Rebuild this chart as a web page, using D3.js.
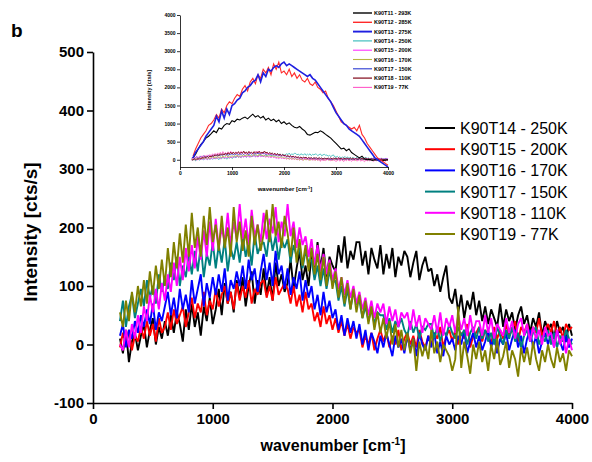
<!DOCTYPE html>
<html><head><meta charset="utf-8">
<script src="https://cdn.jsdelivr.net/npm/d3@7"></script>
<style>body{margin:0;background:#fff} svg text{font-family:Arial,"Liberation Sans",sans-serif}</style>
</head><body><svg id="c" width="592" height="462"></svg>
<script>
// ---------- DATA ----------
const mainNames = ["K90T14 - 250K","K90T15 - 200K","K90T16 - 170K","K90T17 - 150K","K90T18 - 110K","K90T19 - 77K"];
const mainStart = 225, mainStep = 25; // wavenumber grid of the main spectra
const T14 = [10,-15,25,-30,5,20,-10,15,
35,-5,25,45,0,30,10,40,
15,50,20,55,35,5,60,25,
70,30,55,15,65,40,80,35,
60,95,50,105,70,90,55,110,
80,115,65,100,125,70,110,85,
130,85,115,75,140,100,120,90,
105,145,95,130,160,110,135,100,
155,120,175,130,165,115,150,135,
125,170,140,185,130,160,145,175,
175,135,160,120,165,145,130,170,
120,155,130,165,115,150,135,160,
150,115,140,160,110,135,150,125,
130,100,120,90,115,135,80,70,
95,55,85,45,75,60,90,50,
75,40,65,35,60,45,30,70,
30,60,40,55,25,50,65,35,
50,20,45,30,55,15,40,25,
35,10,40,20,30,5,35,15];
const T15 = [-5,20,0,25,-10,15,5,30,
10,40,15,35,5,45,20,30,
55,25,60,35,50,65,30,55,
80,45,70,55,90,50,75,60,
95,65,85,100,70,90,60,105,
75,100,80,110,70,95,85,105,
110,80,100,75,115,85,95,105,
95,70,100,65,85,55,90,60,
70,40,55,30,65,35,50,25,
45,20,40,15,35,10,30,20,
25,-5,15,0,20,-10,10,25,
5,20,-5,15,0,25,-10,10,
20,0,15,-5,25,5,-5,15,
0,20,10,30,-5,15,25,5,
25,0,20,10,35,-5,15,20,
30,5,25,15,0,30,10,25,
10,35,15,25,40,5,30,20,
35,10,30,20,45,15,25,35,
20,40,15,30,10,35,25,30];
const T16 = [15,35,-5,25,10,40,20,50,
30,60,35,70,25,55,40,65,
90,50,80,45,95,60,85,55,
110,70,95,120,65,105,80,115,
85,120,90,130,75,110,95,125,
100,135,95,145,110,130,90,125,
155,110,140,100,160,120,135,95,
130,85,115,95,125,75,110,80,
100,60,85,50,90,55,75,45,
60,25,50,15,45,20,40,10,
35,0,25,-10,20,5,-15,15,
-5,20,0,-20,15,-5,10,-15,
15,-10,10,-20,20,0,-10,15,
-5,20,-15,5,-20,15,0,10,
-10,15,0,25,-15,5,20,-5,
15,-10,5,25,-5,15,-15,10,
0,20,-10,10,25,-5,15,-15,
10,25,-5,15,-15,5,20,0,
20,-5,25,5,-10,15,-5,10];
const T17 = [40,75,30,65,85,45,70,95,
65,110,80,100,70,120,90,115,
95,140,110,150,100,135,115,155,
120,160,125,170,115,155,135,175,
130,170,140,180,125,165,145,175,
140,185,150,175,135,190,155,170,
175,150,195,160,185,145,180,165,
180,140,170,150,165,130,160,140,
145,110,135,100,130,95,125,105,
110,75,100,65,95,60,90,70,
75,45,65,40,60,35,55,50,
50,25,45,20,40,30,45,25,
15,40,20,35,10,30,25,35,
35,10,30,5,25,15,35,20,
10,30,15,25,0,20,30,10,
30,10,25,5,20,0,30,15,
0,25,10,30,5,20,-5,15,
25,5,20,30,0,15,5,25,
0,20,-5,15,5,25,10,0];
const T18 = [0,-10,25,-5,35,10,50,20,
65,40,85,55,95,60,105,75,
120,90,140,100,150,110,165,125,
170,130,185,145,195,150,210,160,
215,165,200,175,225,170,210,180,
240,180,215,170,230,185,205,175,
225,180,215,190,235,175,210,185,
240,185,210,165,200,170,185,150,
180,135,170,125,155,120,145,110,
130,95,115,85,110,80,100,70,
90,60,80,50,75,45,70,55,
70,35,65,40,60,30,55,45,
55,25,60,30,50,20,45,35,
25,50,20,55,15,45,30,50,
20,50,25,45,15,50,20,40,
40,15,50,20,45,10,35,25,
15,45,20,40,10,35,45,15,
35,5,30,10,25,0,30,15,
20,-5,25,0,15,-15,10,-10];
const T19 = [55,30,75,40,90,55,100,65,
110,70,125,85,135,95,145,100,
165,115,175,130,190,140,205,150,
225,165,200,150,220,170,235,175,
205,160,220,165,200,150,235,175,
210,160,195,150,220,170,205,160,
190,230,175,240,185,210,165,220,
190,150,200,140,180,135,170,125,
165,120,155,110,150,100,140,95,
125,80,115,70,105,60,95,55,
85,45,75,35,65,25,55,20,
45,10,40,0,35,-5,25,-10,
20,-15,10,-45,5,-20,0,-25,
25,-15,5,-30,0,-10,-20,-45,
-25,65,-40,5,-20,-50,0,-25,
5,-30,-10,-45,0,-25,10,-35,
-20,5,-40,-10,-25,-55,-5,-30,
-5,-35,5,-25,-45,-10,-30,0,
-25,-40,-5,-30,-15,-45,-10,-20];

const insetNames = ["K90T11 - 293K","K90T12 - 285K","K90T13 - 275K","K90T14 - 250K","K90T15 - 200K","K90T16 - 170K","K90T17 - 150K","K90T18 - 110K","K90T19 - 77K"];
const insetStart = 250, insetStep = 50; // wavenumber grid of the room-temperature spectra
const T11 = [50,150,300,420,500,600,650,720,
800,750,880,850,950,1000,980,1080,
1050,1120,1100,1150,1180,1130,1200,1260,
1180,1220,1150,1200,1100,1150,1080,1120,
1050,1100,1000,1050,980,1020,950,900,
880,920,850,800,700,680,720,760,
750,800,760,700,650,600,520,450,
380,300,320,250,300,200,150,100,
50,100,20,0,10,-20,0,-10,
0,-20,-10,0];
const T12 = [100,300,450,600,700,800,950,1000,
1100,1250,1150,1400,1300,1500,1600,1550,
1700,1800,1750,1950,2050,1900,2150,2250,
2100,2350,2250,2500,2400,2550,2350,2650,
2500,2700,2400,2450,2350,2500,2300,2400,
2250,2350,2200,2150,2250,2100,2050,2150,
2000,1950,1850,1900,1700,1600,1500,1350,
1200,1050,1000,950,900,850,900,800,
950,700,600,450,350,250,150,50,
0,-50,-100,-150];
const T13 = [50,200,300,400,500,650,750,850,
950,1200,1050,1350,1150,1400,1250,1500,
1550,1650,1700,1850,1900,2000,2050,2150,
2200,2350,2150,2400,2300,2500,2450,2550,
2600,2550,2650,2700,2600,2650,2600,2550,
2500,2450,2400,2350,2300,2350,2250,2200,
2100,2000,1900,1800,1700,1600,1450,1300,
1200,1100,1000,950,850,800,750,700,
650,550,450,350,250,150,50,0,
-50,-100,-150,-200];

const mainYTicks = [-100,0,100,200,300,400,500];
const mainXTicks = [0,1000,2000,3000,4000];
const insetYTicks = [0,500,1000,1500,2000,2500,3000,3500,4000];
const insetXTicks = [0,1000,2000,3000,4000];

// ---------- STYLES ----------
const mainColors = ["#000000","#ff0000","#0000ff","#008080","#ff00ff","#808000"];
const insetColors = ["#000000","#ff2a2a","#1f1fe0","#30b8b8","#ff30ff","#b8b840","#2a3ad0","#8a1a2a","#ff5ac8"];
const insetWidths = [1.1,1.1,1.6,0.8,0.8,0.8,0.8,1.0,0.8];

// ---------- DRAW ----------
const svg = d3.select("#c");
const mainSeries = [T14,T15,T16,T17,T18,T19];
const insetSeries = [T11,T12,T13,T14,T15,T16,T17,T18,T19];

const x = d3.scaleLinear([0,4000],[93,572]);
const y = d3.scaleLinear([-100,500],[403,52]);

function styleAxis(g, fs){
  g.selectAll("path.domain").attr("stroke","#000");
  g.selectAll("line").attr("stroke","#000");
  g.selectAll("text").attr("font-size",fs).attr("font-weight","bold").attr("fill","#000")
   .attr("font-family","Arial, 'Liberation Sans', sans-serif");
}

// main lines
mainSeries.forEach((s,k)=>{
  const line = d3.line().x((d,i)=>x(mainStart+i*mainStep)).y(d=>y(d));
  svg.append("path").datum(s).attr("d",line).attr("fill","none")
    .attr("stroke",mainColors[k]).attr("stroke-width",1.9).attr("stroke-linejoin","miter").attr("stroke-miterlimit",2);
});

// main axes
const gy = svg.append("g").attr("transform","translate(93,0)");
gy.call(d3.axisLeft(y).tickValues(d3.range(-50,500,100)).tickSize(3).tickSizeOuter(0).tickFormat(""));
gy.call(d3.axisLeft(y).tickValues(mainYTicks).tickSize(6).tickSizeOuter(0).tickPadding(3).tickFormat(d=>String(d)));
styleAxis(gy,"15px");
gy.selectAll("path.domain,line").attr("stroke-width",1.6);
const gx = svg.append("g").attr("transform","translate(0,403)");
gx.call(d3.axisBottom(x).tickValues(d3.range(500,4000,1000)).tickSize(3).tickSizeOuter(0).tickFormat(""));
gx.call(d3.axisBottom(x).tickValues(mainXTicks).tickSize(6).tickSizeOuter(0).tickPadding(4).tickFormat(d=>String(d)));
styleAxis(gx,"15px");
gx.selectAll("path.domain,line").attr("stroke-width",1.6);

svg.append("text").attr("transform","translate(37,232) rotate(-90)").attr("text-anchor","middle")
  .attr("font-size","19px").attr("font-weight","bold").text("Intensity [cts/s]");
const xt = svg.append("text").attr("x",333).attr("y",451).attr("text-anchor","middle")
  .attr("font-size","16px").attr("font-weight","bold");
xt.append("tspan").text("wavenumber [cm");
xt.append("tspan").attr("dy",-6).attr("font-size","10px").text("-1");
xt.append("tspan").attr("dy",6).text("]");
svg.append("text").attr("x",11).attr("y",37).attr("font-size","19px").attr("font-weight","bold").text("b");

// main legend
mainNames.forEach((n,k)=>{
  const yy = 128 + k*21.2;
  svg.append("line").attr("x1",425).attr("x2",455).attr("y1",yy).attr("y2",yy)
    .attr("stroke",mainColors[k]).attr("stroke-width",2);
  svg.append("text").attr("x",460).attr("y",yy+6).attr("font-size","16px").text(n);
});

// ---------- INSET ----------
const xi = d3.scaleLinear([0,4000],[180,388]);
const yi = d3.scaleLinear([-200,4000],[167,15]);
const order = [3,4,5,6,8,7,0,1,2];
order.forEach(k=>{
  const s = insetSeries[k];
  const st = k<3 ? insetStart : mainStart, sp = k<3 ? insetStep : mainStep;
  const line = d3.line().x((d,i)=>xi(st+i*sp)).y(d=>yi(d));
  svg.append("path").datum(s).attr("d",line).attr("fill","none")
    .attr("stroke",insetColors[k]).attr("stroke-width",insetWidths[k]);
});
const giy = svg.append("g").attr("transform","translate(180,0)");
giy.call(d3.axisLeft(yi).tickValues(d3.range(250,4000,500)).tickSize(1.5).tickSizeOuter(0).tickFormat(""));
giy.call(d3.axisLeft(yi).tickValues(insetYTicks).tickSize(3).tickSizeOuter(0).tickPadding(1.5).tickFormat(d=>String(d)));
styleAxis(giy,"5px");
giy.selectAll("path.domain,line").attr("stroke-width",0.8);
const gix = svg.append("g").attr("transform","translate(0,167)");
gix.call(d3.axisBottom(xi).tickValues(d3.range(500,4000,1000)).tickSize(1.5).tickSizeOuter(0).tickFormat(""));
gix.call(d3.axisBottom(xi).tickValues(insetXTicks).tickSize(3).tickSizeOuter(0).tickPadding(1.5).tickFormat(d=>String(d)));
styleAxis(gix,"5px");
gix.selectAll("path.domain,line").attr("stroke-width",0.8);
svg.append("text").attr("transform","translate(151,90) rotate(-90)").attr("text-anchor","middle")
  .attr("font-size","5.5px").attr("font-weight","bold").text("Intensity [cts/s]");
const xit = svg.append("text").attr("x",285).attr("y",191).attr("text-anchor","middle")
  .attr("font-size","6px").attr("font-weight","bold");
xit.append("tspan").text("wavenumber [cm");
xit.append("tspan").attr("dy",-2).attr("font-size","4px").text("-1");
xit.append("tspan").attr("dy",2).text("]");
insetNames.forEach((n,k)=>{
  const yy = 13 + k*9.3;
  svg.append("line").attr("x1",353).attr("x2",372).attr("y1",yy).attr("y2",yy)
    .attr("stroke",insetColors[k]).attr("stroke-width",insetWidths[k]+0.3);
  svg.append("text").attr("x",374).attr("y",yy+2).attr("font-size","5.5px").attr("font-weight","bold").text(n);
});
</script></body></html>
